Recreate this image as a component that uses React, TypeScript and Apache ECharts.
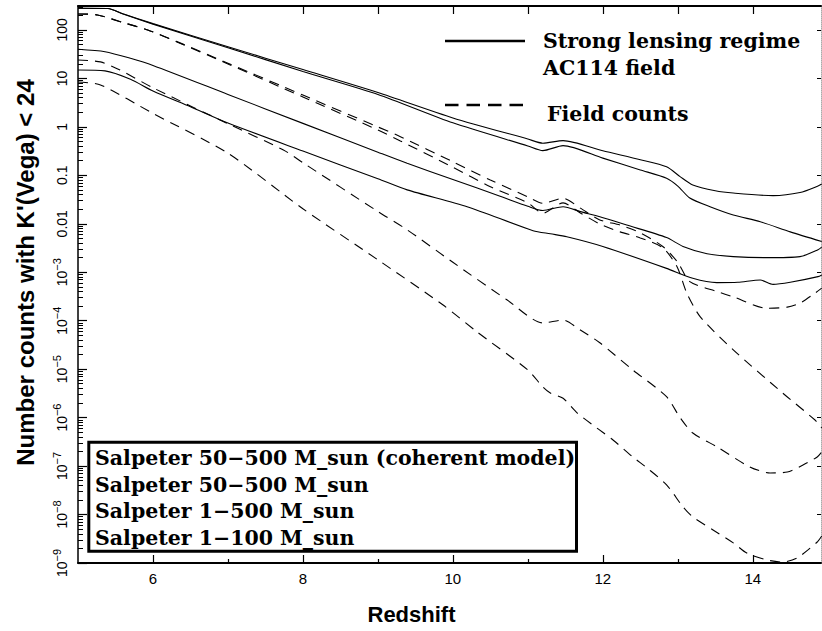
import React, { useEffect, useRef } from "react";
import * as echarts from "echarts";

// ---- axis ticks / labels ----
const xLabelTicks = [6, 8, 10, 12, 14];
const xMinorTicks = [7, 9, 11, 13];
const xTopTicks = [6, 7, 8, 9, 10, 11, 12, 13, 14];
const yDecadeTicks = [1e-9, 1e-8, 1e-7, 1e-6, 1e-5, 1e-4, 1e-3, 0.01, 0.1, 1, 10, 100];
const yMinorMultipliers = [2, 3, 4, 5, 6, 7, 8, 9];

// ---- strong lensing regime (AC114 field), solid ----
const lensCoherent: number[][] = [
  [5.0, 280], [5.4, 278], [5.6, 215], [6.0, 135], [7.0, 45], [8.0, 15.2], [9.0, 5.1],
  [10.0, 1.53], [11.0, 0.56], [11.2, 0.46], [11.47, 0.52], [12.0, 0.32], [12.5, 0.21],
  [12.85, 0.15], [13.03, 0.094], [13.2, 0.063], [13.5, 0.048], [13.74, 0.043],
  [14.27, 0.038], [14.63, 0.044], [14.87, 0.06], [14.92, 0.066],
];
const lens50_500: number[][] = [
  [5.0, 280], [5.4, 278], [5.6, 213], [6.0, 132], [7.0, 43], [8.0, 13.9], [9.0, 4.67],
  [10.0, 1.21], [11.0, 0.404], [11.2, 0.323], [11.47, 0.409], [12.0, 0.226], [12.5, 0.129],
  [12.85, 0.087], [13.0, 0.06], [13.16, 0.034], [13.43, 0.0225], [13.74, 0.0152],
  [14.1, 0.011], [14.5, 0.0068], [14.92, 0.0043],
];
const lens1_500: number[][] = [
  [5.0, 40], [5.36, 35.6], [5.7, 26], [6.0, 18.5], [7.0, 4.67], [8.0, 1.18], [9.0, 0.3],
  [9.39, 0.177], [10.0, 0.082], [10.63, 0.037], [11.0, 0.023], [11.2, 0.0188], [11.47, 0.0225],
  [11.7, 0.0178], [11.96, 0.014], [12.32, 0.0094], [12.85, 0.0052], [13.07, 0.0034],
  [13.39, 0.0024], [13.74, 0.0021], [14.19, 0.002], [14.63, 0.0021], [14.87, 0.0029], [14.92, 0.0033],
];
const lens1_100: number[][] = [
  [5.0, 14.9], [5.36, 14.3], [5.7, 9.6], [6.0, 5.5], [6.5, 2.6], [7.0, 1.2], [8.0, 0.316],
  [9.0, 0.085], [9.39, 0.05], [10.19, 0.0225], [11.07, 0.0072], [11.3, 0.0062], [11.52, 0.0054],
  [12.0, 0.0034], [12.85, 0.0012], [13.2, 0.00075], [13.52, 0.00061], [13.8, 0.00062],
  [14.1, 0.00069], [14.27, 0.00056], [14.5, 0.00062], [14.87, 0.00081], [14.92, 0.00088],
];

// ---- field counts, dashed ----
const fieldCoherent: number[][] = [
  [5.0, 214], [5.26, 204], [5.6, 142], [5.93, 100], [6.32, 57.4], [7.0, 20.6], [8.0, 4.53],
  [9.0, 0.995], [9.3, 0.628], [10.0, 0.19], [10.5, 0.08], [11.0, 0.036], [11.2, 0.0265],
  [11.47, 0.0336], [11.7, 0.021], [11.96, 0.012], [12.23, 0.0094], [12.5, 0.0065],
  [12.8, 0.0034], [13.0, 0.0016], [13.16, 0.00064], [13.52, 0.0004], [13.74, 0.00031],
  [14.19, 0.00018], [14.46, 0.00019], [14.63, 0.00023], [14.83, 0.00037], [14.92, 0.00047],
];
const field50_500: number[][] = [
  [5.0, 214], [5.26, 204], [5.6, 142], [5.93, 100], [6.32, 56.7], [7.0, 19.9], [8.0, 4.14],
  [9.0, 0.863], [9.3, 0.512], [10.0, 0.147], [10.5, 0.058], [11.0, 0.027], [11.2, 0.0165],
  [11.47, 0.027], [11.7, 0.0167], [11.96, 0.0099], [12.23, 0.0068], [12.5, 0.0051],
  [12.8, 0.0032], [12.99, 0.0013], [13.12, 0.00037], [13.3, 0.00012], [13.74, 2.5e-5],
  [14.4, 3.2e-6], [14.83, 8.9e-7], [14.92, 6.1e-7],
];
const field1_500: number[][] = [
  [5.0, 24], [5.3, 21.9], [5.56, 14.9], [6.0, 6.4], [7.0, 1.16], [7.74, 0.333], [8.0, 0.182],
  [9.0, 0.0179], [9.39, 0.0075], [10.0, 0.0016], [10.72, 2.7e-4], [11.2, 9e-5], [11.47, 1.03e-4],
  [11.7, 6.4e-5], [11.96, 3.5e-5], [12.4, 9.6e-6], [12.85, 2.7e-6], [13.03, 1.0e-6],
  [13.2, 4.8e-7], [13.52, 2.5e-7], [13.96, 9.6e-8], [14.23, 7.2e-8], [14.46, 7.5e-8],
  [14.67, 1.05e-7], [14.86, 1.54e-7], [14.92, 1.95e-7],
];
const field1_100: number[][] = [
  [5.0, 8.45], [5.3, 7.33], [6.0, 1.89], [7.0, 0.285], [8.0, 0.0204], [9.0, 0.0018],
  [9.87, 2.1e-4], [10.32, 5.9e-5], [11.0, 9.6e-6], [11.2, 4.3e-6], [11.3, 3.2e-6],
  [11.47, 2.5e-6], [11.66, 1.24e-6], [11.92, 6.1e-7], [12.14, 3.4e-7], [12.4, 1.54e-7],
  [12.59, 9.1e-8], [12.85, 4.1e-8], [13.07, 1.43e-8], [13.2, 8.9e-9], [13.47, 4.8e-9],
  [13.74, 2.6e-9], [13.92, 1.6e-9], [14.19, 1.15e-9], [14.4, 1.04e-9], [14.59, 1.26e-9],
  [14.86, 2.7e-9], [14.92, 3.6e-9],
];

// ---- texts ----
const xTitle = "Redshift";
const yTitle = "Number counts with K'(Vega) < 24";
const topLegend = ["Strong lensing regime", "AC114 field", "Field counts"];
const modelLegend = [
  "Salpeter 50\u2212500 M_sun (coherent model)",
  "Salpeter 50\u2212500 M_sun",
  "Salpeter 1\u2212500 M_sun",
  "Salpeter 1\u2212100 M_sun",
];

const X_MIN = 5;
const X_MAX = 14.91;
const Y_MIN = 9.97e-10;
const Y_MAX = 312;

function buildOption() {
  const yMinorTicks: number[] = [];
  yDecadeTicks.forEach((d) => {
    yMinorMultipliers.forEach((k) => {
      const v = k * d;
      if (v < Y_MAX) yMinorTicks.push(v);
    });
  });

  const solid = { color: "#000", width: 1.1, type: "solid" as const };
  const dashed = { color: "#000", width: 1.1, type: [10, 7] as number[] };
  const mk = (name: string, data: number[][], ls: any) => ({
    name,
    type: "line",
    xAxisIndex: 0,
    yAxisIndex: 0,
    data,
    showSymbol: false,
    symbol: "none",
    smooth: 0.25,
    lineStyle: ls,
    z: 3,
  });

  const yLabelFormatter = (v: number) => {
    if (v >= 0.01) {
      const s = v >= 1 ? String(Math.round(v)) : v < 0.05 ? "0.01" : "0.1";
      return "{b|" + s + "}";
    }
    const e = Math.round(Math.log10(v));
    return "{b|10}{s|\u2212" + Math.abs(e) + "}";
  };

  const sansFont = "Liberation Sans, Arial, Helvetica, sans-serif";
  const serifFont = "DejaVu Serif, serif";
  const legendFont = "bold 20.5px " + serifFont;

  return {
    animation: false,
    backgroundColor: "#fff",
    grid: {
      left: 78,
      top: 6,
      width: 743,
      height: 557,
      containLabel: false,
      outerBoundsMode: "none",
    },
    xAxis: [
      {
        type: "value",
        position: "bottom",
        min: X_MIN,
        max: X_MAX,
        name: xTitle,
        nameLocation: "middle",
        nameGap: 40,
        nameMoveOverlap: false,
        nameTextStyle: {
          fontFamily: sansFont,
          fontWeight: "bold",
          fontSize: 22,
          color: "#000",
          padding: [0, 76, 0, 0],
        },
        axisLine: { show: true, onZero: false, lineStyle: { color: "#000", width: 2 } },
        axisTick: { show: true, inside: true, length: 8, customValues: xLabelTicks, lineStyle: { color: "#000", width: 1.2 } },
        axisLabel: { show: true, customValues: xLabelTicks, fontFamily: sansFont, fontSize: 15, color: "#000", margin: 8 },
        splitLine: { show: false },
      },
      {
        type: "value",
        position: "bottom",
        min: X_MIN,
        max: X_MAX,
        axisLine: { show: false },
        axisTick: { show: true, inside: true, length: 4, customValues: xMinorTicks, lineStyle: { color: "#000", width: 1.2 } },
        axisLabel: { show: false },
        splitLine: { show: false },
      },
      {
        type: "value",
        position: "top",
        min: X_MIN,
        max: X_MAX,
        axisLine: { show: true, onZero: false, lineStyle: { color: "#000", width: 2 } },
        axisTick: { show: true, inside: true, length: 8, customValues: xTopTicks, lineStyle: { color: "#000", width: 1.2 } },
        axisLabel: { show: false },
        splitLine: { show: false },
      },
    ],
    yAxis: [
      {
        type: "log",
        logBase: 10,
        position: "left",
        min: Y_MIN,
        max: Y_MAX,
        name: yTitle,
        nameLocation: "middle",
        nameRotate: 90,
        nameGap: 41,
        nameMoveOverlap: false,
        nameTextStyle: {
          fontFamily: sansFont,
          fontWeight: "bold",
          fontSize: 24,
          color: "#000",
          padding: [0, 0, 0, 24],
        },
        axisLine: { show: true, onZero: false, lineStyle: { color: "#000", width: 1.5 } },
        axisTick: { show: true, inside: true, length: 9, customValues: yDecadeTicks, lineStyle: { color: "#000", width: 1.2 } },
        axisLabel: {
          show: true,
          customValues: yDecadeTicks,
          rotate: 90,
          margin: 9,
          formatter: yLabelFormatter,
          rich: {
            b: { fontFamily: sansFont, fontSize: 14, color: "#000", lineHeight: 18, verticalAlign: "bottom" },
            s: { fontFamily: sansFont, fontSize: 11, color: "#000", lineHeight: 11, verticalAlign: "top" },
          },
        },
        splitLine: { show: false },
      },
      {
        type: "log",
        logBase: 10,
        position: "left",
        min: Y_MIN,
        max: Y_MAX,
        axisLine: { show: false },
        axisTick: { show: true, inside: true, length: 5, customValues: yMinorTicks, lineStyle: { color: "#000", width: 1 } },
        axisLabel: { show: false },
        splitLine: { show: false },
      },
      {
        type: "log",
        logBase: 10,
        position: "right",
        min: Y_MIN,
        max: Y_MAX,
        axisLine: { show: true, onZero: false, lineStyle: { color: "#aaa", width: 1, type: "dotted" } },
        axisTick: { show: true, inside: true, length: 4, customValues: yDecadeTicks, lineStyle: { color: "#000", width: 1 } },
        axisLabel: { show: false },
        splitLine: { show: false },
      },
    ],
    series: [
      mk("Lensing 50-500 coherent", lensCoherent, solid),
      mk("Lensing 50-500", lens50_500, solid),
      mk("Lensing 1-500", lens1_500, solid),
      mk("Lensing 1-100", lens1_100, solid),
      mk("Field 50-500 coherent", fieldCoherent, dashed),
      mk("Field 50-500", field50_500, dashed),
      mk("Field 1-500", field1_500, dashed),
      mk("Field 1-100", field1_100, dashed),
    ],
    graphic: [
      {
        type: "line",
        z: 10,
        shape: { x1: 445, y1: 41, x2: 525, y2: 41 },
        style: { stroke: "#000", lineWidth: 2.5 },
      },
      {
        type: "text",
        z: 10,
        x: 543,
        y: 41,
        style: { text: topLegend[0], font: legendFont, fill: "#000", align: "left", verticalAlign: "middle" },
      },
      {
        type: "text",
        z: 10,
        x: 543,
        y: 68,
        style: { text: topLegend[1], font: legendFont, fill: "#000", align: "left", verticalAlign: "middle" },
      },
      {
        type: "line",
        z: 10,
        shape: { x1: 445, y1: 105, x2: 524, y2: 105 },
        style: { stroke: "#000", lineWidth: 2.5, lineDash: [13.5, 8] },
      },
      {
        type: "text",
        z: 10,
        x: 547,
        y: 114,
        style: { text: topLegend[2], font: legendFont, fill: "#000", align: "left", verticalAlign: "middle" },
      },
      {
        type: "rect",
        z: 10,
        shape: { x: 88.8, y: 442.2, width: 487.7, height: 109 },
        style: { fill: "#fff", stroke: "#000", lineWidth: 3 },
      },
      ...modelLegend.map((t, i) => ({
        type: "text",
        z: 11,
        x: 95,
        y: 458.3 + i * 26.4,
        style: { text: t, font: legendFont, fill: "#000", align: "left", verticalAlign: "middle" },
      })),
    ],
  };
}

export default function App() {
  const ref = useRef<HTMLDivElement>(null);
  useEffect(() => {
    if (!ref.current) return;
    const chart = echarts.init(ref.current, null, { renderer: "svg" });
    chart.setOption(buildOption() as any);
    return () => {
      chart.dispose();
    };
  }, []);
  return (
    <div
      ref={ref}
      style={{ position: "fixed", left: 0, top: 0, width: 822, height: 631, background: "#fff" }}
    />
  );
}
